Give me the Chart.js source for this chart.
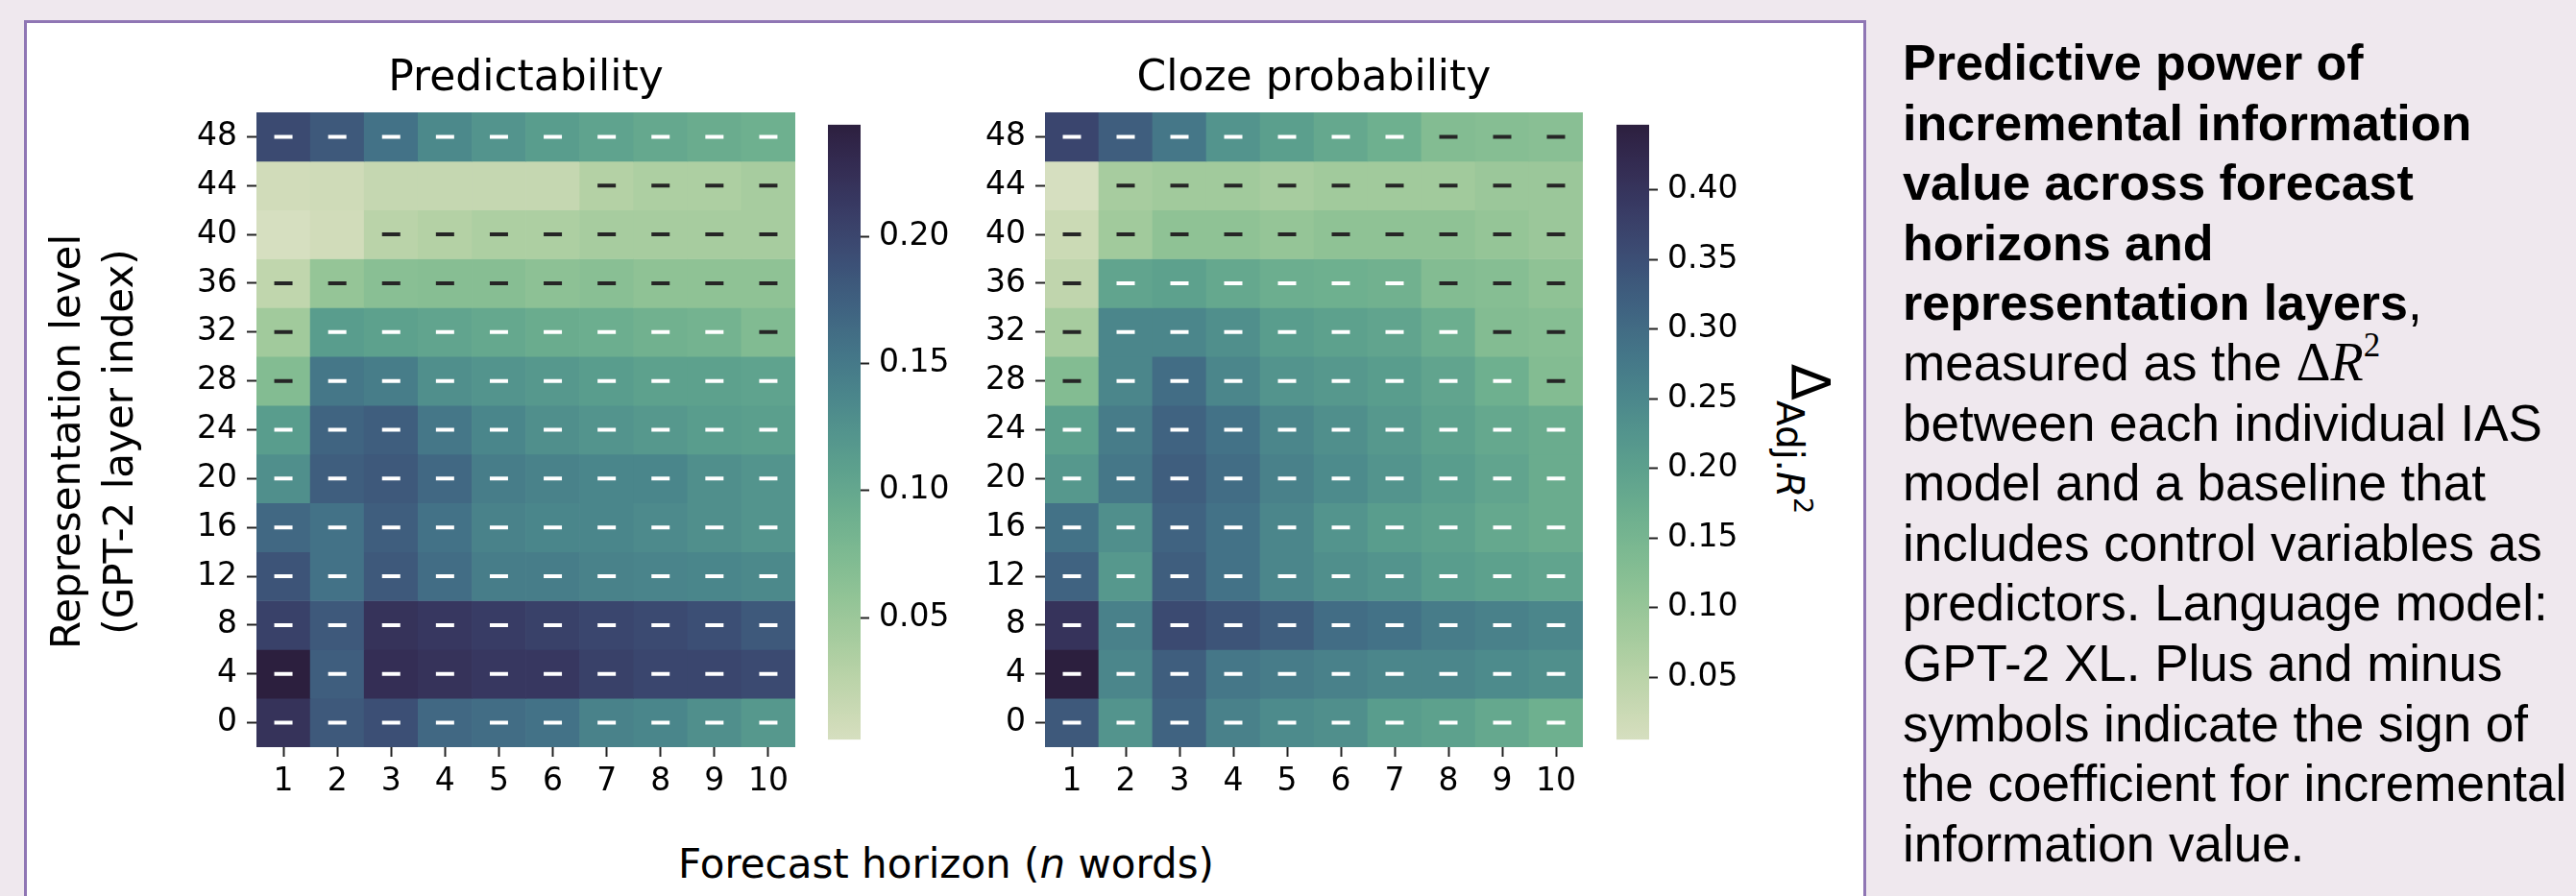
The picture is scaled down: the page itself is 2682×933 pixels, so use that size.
<!DOCTYPE html>
<html lang="en">
<head>
<meta charset="UTF-8">
<title>Predictive power of incremental information value</title>
<script src="https://cdn.jsdelivr.net/npm/chart.js"></script>
<style>
    html, body { margin: 0; padding: 0; }
    body {
        width: 2682px; height: 933px; position: relative; overflow: hidden;
        background: #efe8ee; font-family: 'DejaVu Sans', sans-serif; color: #000;
    }
    .panel {
        position: absolute; left: 25px; top: 21px; width: 1912px; height: 960px;
        border: 3px solid #8f76b4; background: #fff;
    }
    .box { position: absolute; }
    .box canvas { display: block; }
    .ylabel {
        position: absolute; left: -204px; top: 405px; width: 600px;
        font-size: 42px; line-height: 55px; text-align: center; white-space: nowrap;
        transform: rotate(-90deg);
    }
    .xlabel {
        position: absolute; left: 985px; top: 875px; transform: translateX(-50%);
        font-size: 42px; line-height: 50px; white-space: nowrap;
    }
    .cblabel {
        position: absolute; left: 1880px; top: 457px; white-space: nowrap;
        font-size: 56px; line-height: 60px;
        transform: translate(-50%, -50%) rotate(90deg);
    }
    .cblabel .sub { font-size: 39px; position: relative; top: 16px; }
    .cblabel .sup { font-size: 27px; position: relative; top: -18px; }
    .caption {
        position: absolute; left: 1981px; top: 34px;
        font-family: 'Liberation Sans', Arial, sans-serif; font-size: 53px; line-height: 62.6px;
        white-space: nowrap;
    }
    .caption b { font-size: 52px; }
    .caption .math { font-family: 'Liberation Serif', serif; font-size: 56px; line-height: 0; }
    .caption .pow { font-size: 35px; line-height: 0; position: relative; top: -25px; vertical-align: baseline; }
</style>
</head>
<body>
<div class="panel"></div>

<div class="box" style="left:150px; top:40px; width:700px; height:820px;"><canvas id="predChart"></canvas></div>
<div class="box" style="left:852px; top:100px; width:148px; height:700px;"><canvas id="predBar"></canvas></div>
<div class="box" style="left:1000px; top:40px; width:670px; height:820px;"><canvas id="clozeChart"></canvas></div>
<div class="box" style="left:1673px; top:100px; width:167px; height:700px;"><canvas id="clozeBar"></canvas></div>

<div class="ylabel">Representation level<br>(GPT-2 layer index)</div>
<div class="xlabel">Forecast horizon (<i>n</i> words)</div>
<div class="cblabel">Δ<span class="sub">Adj.<i>R</i><span class="sup">2</span></span></div>

<div class="caption"><b>Predictive power of</b><br><b>incremental information</b><br><b>value across forecast</b><br><b>horizons and</b><br><b>representation layers</b>,<br>measured as the <span class="math">Δ<i>R</i><span class="pow">2</span></span><br>between each individual IAS<br>model and a baseline that<br>includes control variables as<br>predictors. Language model:<br>GPT-2 XL. Plus and minus<br>symbols indicate the sign of<br>the coefficient for incremental<br>information value.</div>

<script>
    // rows top to bottom
    const layers = [48, 44, 40, 36, 32, 28, 24, 20, 16, 12, 8, 4, 0];
    const horizons = ['1', '2', '3', '4', '5', '6', '7', '8', '9', '10'];

    // delta adj. R^2, Predictability
    const predictability = [
        [0.196, 0.181, 0.157, 0.135, 0.123, 0.113, 0.106, 0.099, 0.094, 0.089],
        [0.007, 0.009, 0.017, 0.017, 0.017, 0.017, 0.031, 0.036, 0.036, 0.041],
        [0.002, 0.007, 0.026, 0.031, 0.036, 0.036, 0.041, 0.041, 0.041, 0.041],
        [0.021, 0.055, 0.065, 0.067, 0.067, 0.062, 0.065, 0.060, 0.060, 0.060],
        [0.046, 0.113, 0.108, 0.104, 0.099, 0.094, 0.092, 0.087, 0.084, 0.072],
        [0.070, 0.152, 0.147, 0.128, 0.123, 0.118, 0.113, 0.108, 0.108, 0.106],
        [0.113, 0.171, 0.176, 0.152, 0.138, 0.128, 0.123, 0.118, 0.113, 0.111],
        [0.128, 0.176, 0.181, 0.167, 0.147, 0.142, 0.138, 0.138, 0.128, 0.123],
        [0.167, 0.157, 0.176, 0.157, 0.142, 0.138, 0.138, 0.133, 0.128, 0.123],
        [0.186, 0.157, 0.181, 0.162, 0.147, 0.147, 0.142, 0.140, 0.138, 0.135],
        [0.205, 0.181, 0.220, 0.215, 0.210, 0.205, 0.200, 0.196, 0.191, 0.181],
        [0.244, 0.176, 0.225, 0.220, 0.215, 0.215, 0.205, 0.200, 0.200, 0.196],
        [0.220, 0.181, 0.191, 0.167, 0.162, 0.157, 0.142, 0.138, 0.128, 0.118]
    ];
    // sign of coefficient, blank = not shown
    const predictabilitySigns = [
        '----------', '      ----', '  --------', '----------', '----------',
        '----------', '----------', '----------', '----------', '----------',
        '----------', '----------', '----------'
    ];

    // delta adj. R^2, Cloze probability
    const cloze = [
        [0.367, 0.323, 0.279, 0.226, 0.204, 0.182, 0.164, 0.129, 0.125, 0.120],
        [0.005, 0.076, 0.085, 0.085, 0.076, 0.085, 0.085, 0.085, 0.093, 0.093],
        [0.023, 0.085, 0.111, 0.111, 0.102, 0.111, 0.111, 0.111, 0.102, 0.093],
        [0.040, 0.191, 0.199, 0.182, 0.169, 0.164, 0.160, 0.129, 0.125, 0.111],
        [0.076, 0.253, 0.253, 0.235, 0.208, 0.199, 0.191, 0.169, 0.129, 0.125],
        [0.129, 0.253, 0.297, 0.253, 0.226, 0.217, 0.208, 0.191, 0.164, 0.129],
        [0.199, 0.270, 0.314, 0.288, 0.253, 0.235, 0.217, 0.199, 0.182, 0.173],
        [0.217, 0.279, 0.323, 0.297, 0.261, 0.244, 0.226, 0.208, 0.191, 0.173],
        [0.288, 0.235, 0.314, 0.288, 0.253, 0.226, 0.208, 0.199, 0.182, 0.173],
        [0.314, 0.217, 0.323, 0.288, 0.253, 0.235, 0.226, 0.208, 0.199, 0.191],
        [0.403, 0.261, 0.359, 0.341, 0.323, 0.297, 0.288, 0.270, 0.261, 0.253],
        [0.447, 0.253, 0.323, 0.279, 0.270, 0.261, 0.253, 0.253, 0.244, 0.235],
        [0.332, 0.226, 0.314, 0.261, 0.244, 0.235, 0.208, 0.199, 0.182, 0.164]
    ];
    const clozeSigns = [
        '----------', ' ---------', '----------', '----------', '----------',
        '----------', '----------', '----------', '----------', '----------',
        '----------', '----------', '----------'
    ];

    const predictabilityTicks = [0.05, 0.10, 0.15, 0.20];
    const clozeTicks = [0.05, 0.10, 0.15, 0.20, 0.25, 0.30, 0.35, 0.40];

    const TEXT = '#000';
    const TICK = '#222';

    // seaborn cubehelix_palette(start=.5, rot=-.75), light -> dark
    function cubehelix(x) {
        const a = 0.8 * x * (1 - x) / 2;
        const phi = 2 * Math.PI * (0.5 / 3 - 0.75 * x);
        const c = Math.cos(phi), s = Math.sin(phi);
        const rgb = [
            x + a * (-0.14861 * c + 1.78277 * s),
            x + a * (-0.29227 * c - 0.90649 * s),
            x + a * (1.97294 * c)
        ];
        return rgb.map(v => Math.round(Math.min(1, Math.max(0, v)) * 255));
    }
    function cmap(t) { return cubehelix(0.85 - 0.7 * t); }
    function rgbStr(c) { return `rgb(${c[0]}, ${c[1]}, ${c[2]})`; }
    function luminance(c) {
        const lin = c.map(v => {
            v /= 255;
            return v <= 0.03928 ? v / 12.92 : Math.pow((v + 0.055) / 1.055, 2.4);
        });
        return 0.2126 * lin[0] + 0.7152 * lin[1] + 0.0722 * lin[2];
    }
    function range(values) {
        const flat = values.flat();
        return [Math.min(...flat), Math.max(...flat)];
    }

    Chart.defaults.font.family = "'DejaVu Sans', sans-serif";
    Chart.defaults.color = TEXT;

    function makeHeatmap(canvasId, title, values, signs, yWidth) {
        const [vmin, vmax] = range(values);
        const colorOf = v => cmap((v - vmin) / (vmax - vmin));

        const datasets = layers.map((layer, r) => ({
            type: 'bar',
            data: horizons.map(() => [layer - 2, layer + 2]),
            backgroundColor: values[r].map(v => rgbStr(colorOf(v))),
            borderWidth: 0,
            barPercentage: 1,
            categoryPercentage: 1,
            order: 1
        }));

        // sign markers, coloured like seaborn annotations
        const marks = [], markColors = [];
        layers.forEach((layer, r) => {
            horizons.forEach((h, c) => {
                if (signs[r][c] !== '-') return;
                marks.push({ x: h, y: layer });
                markColors.push(luminance(colorOf(values[r][c])) > 0.408 ? '#262626' : '#ffffff');
            });
        });
        datasets.push({
            type: 'line',
            data: marks,
            showLine: false,
            pointStyle: 'line',
            pointRadius: 9.5,
            pointHoverRadius: 9.5,
            pointBorderWidth: 4,
            pointBorderColor: markColors,
            order: 0
        });

        return new Chart(document.getElementById(canvasId), {
            type: 'bar',
            data: { labels: horizons, datasets: datasets },
            options: {
                responsive: true,
                maintainAspectRatio: false,
                animation: false,
                events: [],
                layout: { padding: { right: 22 } },
                plugins: {
                    legend: { display: false },
                    tooltip: { enabled: false },
                    title: {
                        display: true,
                        text: title,
                        fullSize: false,
                        color: TEXT,
                        font: { size: 44, weight: 'normal', lineHeight: 1.2 },
                        padding: { top: 16.6, bottom: 7.6 }
                    }
                },
                scales: {
                    x: {
                        stacked: true,
                        offset: true,
                        border: { display: false },
                        grid: { offset: false, drawOnChartArea: false, tickLength: 10, tickWidth: 2, tickColor: TICK },
                        ticks: { color: TEXT, font: { size: 33 }, padding: 7, maxRotation: 0, autoSkip: false },
                        afterFit: s => { s.height = 82; }
                    },
                    y: {
                        type: 'linear',
                        min: -2,
                        max: 50,
                        border: { display: false },
                        grid: { drawOnChartArea: false, tickLength: 10, tickWidth: 2, tickColor: TICK },
                        ticks: { color: TEXT, font: { size: 33 }, padding: 10, autoSkip: false },
                        afterBuildTicks: s => { s.ticks = layers.slice().reverse().map(v => ({ value: v })); },
                        afterFit: s => { s.width = yWidth; }
                    }
                }
            }
        });
    }

    function makeColorbar(canvasId, values, tickValues, axisWidth) {
        const [vmin, vmax] = range(values);
        const gradient = ctx => {
            const area = ctx.chart.chartArea;
            if (!area) return null;
            const g = ctx.chart.ctx.createLinearGradient(0, area.bottom, 0, area.top);
            for (let i = 0; i <= 48; i++) g.addColorStop(i / 48, rgbStr(cmap(i / 48)));
            return g;
        };
        return new Chart(document.getElementById(canvasId), {
            type: 'bar',
            data: {
                labels: [''],
                datasets: [{
                    data: [[vmin, vmax]],
                    backgroundColor: gradient,
                    borderWidth: 0,
                    barPercentage: 1,
                    categoryPercentage: 1
                }]
            },
            options: {
                responsive: true,
                maintainAspectRatio: false,
                animation: false,
                events: [],
                layout: { padding: { left: 10, top: 17, bottom: 22, right: 0 } },
                plugins: { legend: { display: false }, tooltip: { enabled: false } },
                scales: {
                    x: { display: false },
                    y: {
                        position: 'right',
                        min: vmin,
                        max: vmax,
                        border: { display: false },
                        grid: { drawOnChartArea: false, tickLength: 9, tickWidth: 2, tickColor: TICK },
                        ticks: { color: TEXT, font: { size: 33 }, padding: 10, callback: v => v.toFixed(2) },
                        afterBuildTicks: s => { s.ticks = tickValues.map(v => ({ value: v })); },
                        afterFit: s => { s.width = axisWidth; }
                    }
                }
            }
        });
    }

    makeHeatmap('predChart', 'Predictability', predictability, predictabilitySigns, 117);
    makeColorbar('predBar', predictability, predictabilityTicks, 104);
    makeHeatmap('clozeChart', 'Cloze probability', cloze, clozeSigns, 88);
    makeColorbar('clozeBar', cloze, clozeTicks, 123);
</script>
</body>
</html>
